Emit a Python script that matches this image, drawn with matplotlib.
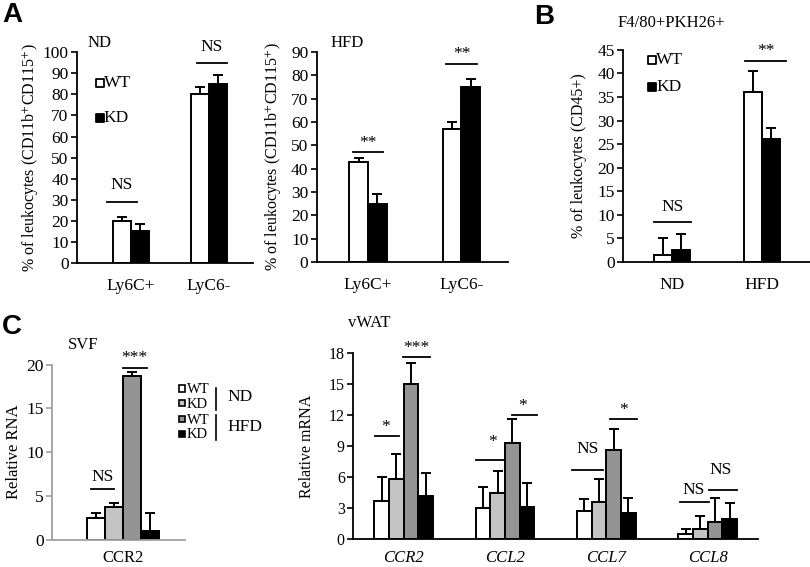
import matplotlib
matplotlib.use("Agg")
import matplotlib.pyplot as plt
import numpy as np

plt.rcParams['font.family'] = ['Liberation Serif', 'DejaVu Serif']
plt.rcParams['mathtext.fontset'] = 'stix'

# ---- data ----
# panel A (ND / HFD), groups Ly6C+ and LyC6-
a_groups = ['Ly6C+', 'LyC6-']
nd_wt = [20, 80]
nd_wt_err = [2, 3.5]
nd_kd = [15, 85]
nd_kd_err = [3.5, 4]
hfd_wt = [43, 57]
hfd_wt_err = [1.5, 3]
hfd_kd = [25, 75]
hfd_kd_err = [4, 3.5]

# panel B
b_groups = ['ND', 'HFD']
b_wt = [1.5, 36]
b_wt_err = [3.5, 4.5]
b_kd = [2.5, 26]
b_kd_err = [3.5, 2.5]

# panel C left (SVF), order: WT ND, KD ND, WT HFD, KD HFD
svf_vals = [2.5, 3.7, 18.7, 1.0]
svf_err = [0.6, 0.5, 0.4, 2.1]

# panel C right (vWAT)
genes = ['CCR2', 'CCL2', 'CCL7', 'CCL8']
wat_wt_nd = [3.7, 3.0, 2.7, 0.55]
wat_wt_nd_err = [2.3, 2.05, 1.2, 0.4]
wat_kd_nd = [5.8, 4.5, 3.6, 0.95]
wat_kd_nd_err = [2.4, 2.15, 2.2, 1.25]
wat_wt_hfd = [15.0, 9.3, 8.6, 1.7]
wat_wt_hfd_err = [2.1, 2.3, 2.1, 2.3]
wat_kd_hfd = [4.2, 3.1, 2.5, 2.0]
wat_kd_hfd_err = [2.2, 2.3, 1.5, 1.5]

colors4 = ['white', '#c4c4c4', '#949494', 'black']

fig = plt.figure(figsize=(8.1, 5.67), dpi=100)


def bars(ax, x, vals, errs, color, w):
    ax.bar(x, vals, w, color=color, edgecolor='black', linewidth=1.4, zorder=2)
    ax.errorbar(x, vals, yerr=[np.zeros(len(vals)), errs], fmt='none',
                ecolor='black', elinewidth=1.4, capsize=3.5, capthick=1.4, zorder=1)


def sig(ax, x0, x1, y, label, ty, tx=None, fs=12.5):
    ax.plot([x0, x1], [y, y], color='black', lw=1.3, clip_on=False)
    if tx is None:
        tx = (x0 + x1) / 2
    ax.text(tx, ty, label, ha='center', va='bottom', fontsize=fs, clip_on=False)


def style(ax, color='black', size=12.5):
    for s in ['top', 'right']:
        ax.spines[s].set_visible(False)
    for s in ['left', 'bottom']:
        ax.spines[s].set_color(color)
        ax.spines[s].set_linewidth(1.3)
    ax.tick_params(axis='y', direction='out', length=4.5, width=1.2, color=color,
                   labelsize=size, pad=1.5)
    ax.tick_params(axis='x', length=0, labelsize=12.5, pad=11)


def key(ax, x, y, color, label):
    ax.scatter([x], [y], marker='s', s=32, facecolor=color, edgecolor='black',
               linewidth=1.3, transform=ax.transAxes, clip_on=False)
    ax.text(x + 0.022, y, label, transform=ax.transAxes, va='center', ha='left',
            fontsize=12.5)


# ---- A left ----
ax1 = fig.add_axes([0.095, 0.536, 0.217, 0.372])
xa = np.arange(len(a_groups))
bars(ax1, xa - 0.115, nd_wt, nd_wt_err, 'white', 0.23)
bars(ax1, xa + 0.115, nd_kd, nd_kd_err, 'black', 0.23)
ax1.set_xlim(-0.69, 1.56)
ax1.set_ylim(0, 100)
ax1.set_yticks(range(0, 101, 10))
ax1.set_xticks(xa)
ax1.set_xticklabels(a_groups)
style(ax1)
ax1.set_ylabel('% of leukocytes (CD11b$^{+}$CD115$^{+}$)', fontsize=11.5)
ax1.yaxis.set_label_coords(-0.21, 0.5)
ax1.text(0.06, 1.045, 'ND', transform=ax1.transAxes, fontsize=12, va='center')
sig(ax1, -0.31, 0.08, 29, 'NS', 33)
sig(ax1, 0.85, 1.23, 94.8, 'NS', 98.5)
key(ax1, 0.13, 0.853, 'white', 'WT')
key(ax1, 0.13, 0.687, 'black', 'KD')

# ---- A right ----
ax2 = fig.add_axes([0.391, 0.538, 0.236, 0.370])
bars(ax2, xa - 0.1, hfd_wt, hfd_wt_err, 'white', 0.2)
bars(ax2, xa + 0.1, hfd_kd, hfd_kd_err, 'black', 0.2)
ax2.set_xlim(-0.55, 1.5)
ax2.set_ylim(0, 90)
ax2.set_yticks(range(0, 91, 10))
ax2.set_xticks(xa)
ax2.set_xticklabels(a_groups)
style(ax2)
ax2.set_ylabel('% of leukocytes (CD11b$^{+}$CD115$^{+}$)', fontsize=11.5)
ax2.yaxis.set_label_coords(-0.178, 0.5)
ax2.text(0.07, 1.043, 'HFD', transform=ax2.transAxes, fontsize=12, va='center')
sig(ax2, -0.16, 0.16, 47.1, '**', 47.8)
sig(ax2, 0.84, 1.17, 84.9, '**', 85.6)

# ---- B ----
ax3 = fig.add_axes([0.769, 0.538, 0.231, 0.374])
xb = np.arange(len(b_groups))
bars(ax3, xb - 0.1, b_wt, b_wt_err, 'white', 0.2)
bars(ax3, xb + 0.1, b_kd, b_kd_err, 'black', 0.2)
ax3.set_xlim(-0.54, 1.53)
ax3.set_ylim(0, 45)
ax3.set_yticks(range(0, 46, 5))
ax3.set_xticks(xb)
ax3.set_xticklabels(b_groups)
style(ax3)
ax3.set_ylabel('% of leukocytes (CD45+)', fontsize=11.5)
ax3.yaxis.set_label_coords(-0.19, 0.5)
ax3.text(-0.03, 1.127, 'F4/80+PKH26+', transform=ax3.transAxes, fontsize=12,
         va='center')
sig(ax3, -0.2, 0.21, 8.5, 'NS', 10.0)
sig(ax3, 0.81, 1.27, 42.7, '**', 43.0)
key(ax3, 0.155, 0.953, 'white', 'WT')
key(ax3, 0.155, 0.825, 'black', 'KD')

# ---- C left ----
ax4 = fig.add_axes([0.064, 0.048, 0.164, 0.309])
w4 = 0.18
xc = (np.arange(4) - 1.5) * w4
for i in range(4):
    bars(ax4, [xc[i]], [svf_vals[i]], [svf_err[i]], colors4[i], w4)
ax4.set_xlim(-0.71, 0.62)
ax4.set_ylim(0, 20)
ax4.set_yticks(range(0, 21, 5))
ax4.set_xticks([0])
ax4.set_xticklabels(['CCR2'])
style(ax4, color='#a0a0a0', size=12.5)
ax4.tick_params(axis='x', labelsize=12, pad=7)
ax4.set_ylabel('Relative RNA', fontsize=12)
ax4.yaxis.set_label_coords(-0.225, 0.5)
ax4.text(0.12, 1.114, 'SVF', transform=ax4.transAxes, fontsize=12, va='center')
sig(ax4, -0.32, -0.09, 5.8, 'NS', 6.2, fs=12.5)
sig(ax4, 0.0, 0.24, 19.65, '***', 19.8, fs=12.5)

# legend with ND / HFD brackets
lg_y = [0.315, 0.289, 0.261, 0.235]
lg_lab = ['WT', 'KD', 'WT', 'KD']
for i in range(4):
    fig.patches.append(plt.Rectangle((0.2215, lg_y[i] - 0.0055), 0.0075, 0.0107,
                                     transform=fig.transFigure,
                                     facecolor=colors4[i], edgecolor='black',
                                     linewidth=1.2))
    fig.text(0.2305, lg_y[i] - 0.002, lg_lab[i], fontsize=10.5, va='center')
fig.add_artist(plt.Line2D([0.2667, 0.2667], [0.316, 0.277], color='black', lw=1.2))
fig.add_artist(plt.Line2D([0.2667, 0.2667], [0.268, 0.224], color='black', lw=1.2))
fig.text(0.281, 0.300, 'ND', fontsize=12.5, va='center')
fig.text(0.281, 0.247, 'HFD', fontsize=12.5, va='center')

# ---- C right ----
ax5 = fig.add_axes([0.436, 0.049, 0.5, 0.328])
w5 = 0.145
xg = np.arange(len(genes))
series = [(wat_wt_nd, wat_wt_nd_err), (wat_kd_nd, wat_kd_nd_err),
          (wat_wt_hfd, wat_wt_hfd_err), (wat_kd_hfd, wat_kd_hfd_err)]
for i, (v, e) in enumerate(series):
    bars(ax5, xg + (i - 1.5) * w5, v, e, colors4[i], w5)
ax5.set_xlim(-0.5, 3.5)
ax5.set_ylim(0, 18)
ax5.set_yticks(range(0, 19, 3))
ax5.set_xticks(xg)
ax5.set_xticklabels(genes, style='italic')
style(ax5, size=11.5)
ax5.tick_params(axis='x', labelsize=12, pad=8)
ax5.set_ylabel('Relative mRNA', fontsize=11.5)
ax5.yaxis.set_label_coords(-0.094, 0.5)
ax5.text(-0.012, 1.16, 'vWAT', transform=ax5.transAxes, fontsize=12, va='center')
sig(ax5, -0.28, -0.05, 9.95, '*', 10.1, tx=-0.18)
sig(ax5, -0.01, 0.26, 17.6, '***', 17.7)
sig(ax5, 0.71, 0.99, 7.66, '*', 8.6, tx=0.88)
sig(ax5, 1.07, 1.32, 12.0, '*', 12.1, tx=1.17)
sig(ax5, 1.66, 1.97, 6.66, 'NS', 8.0, tx=1.82)
sig(ax5, 2.04, 2.30, 11.6, '*', 11.7, tx=2.17)
sig(ax5, 2.73, 3.01, 3.6, 'NS', 4.0, tx=2.86)
sig(ax5, 3.01, 3.29, 4.8, 'NS', 5.9, tx=3.13)

# panel letters
for lx, ly, lt in [(0.003, 0.973, 'A'), (0.660, 0.970, 'B'), (0.002, 0.423, 'C')]:
    fig.text(lx, ly, lt, fontsize=20, fontweight='bold', family='Liberation Sans',
             va='center', ha='left')

fig.savefig('out.png', dpi=100)
